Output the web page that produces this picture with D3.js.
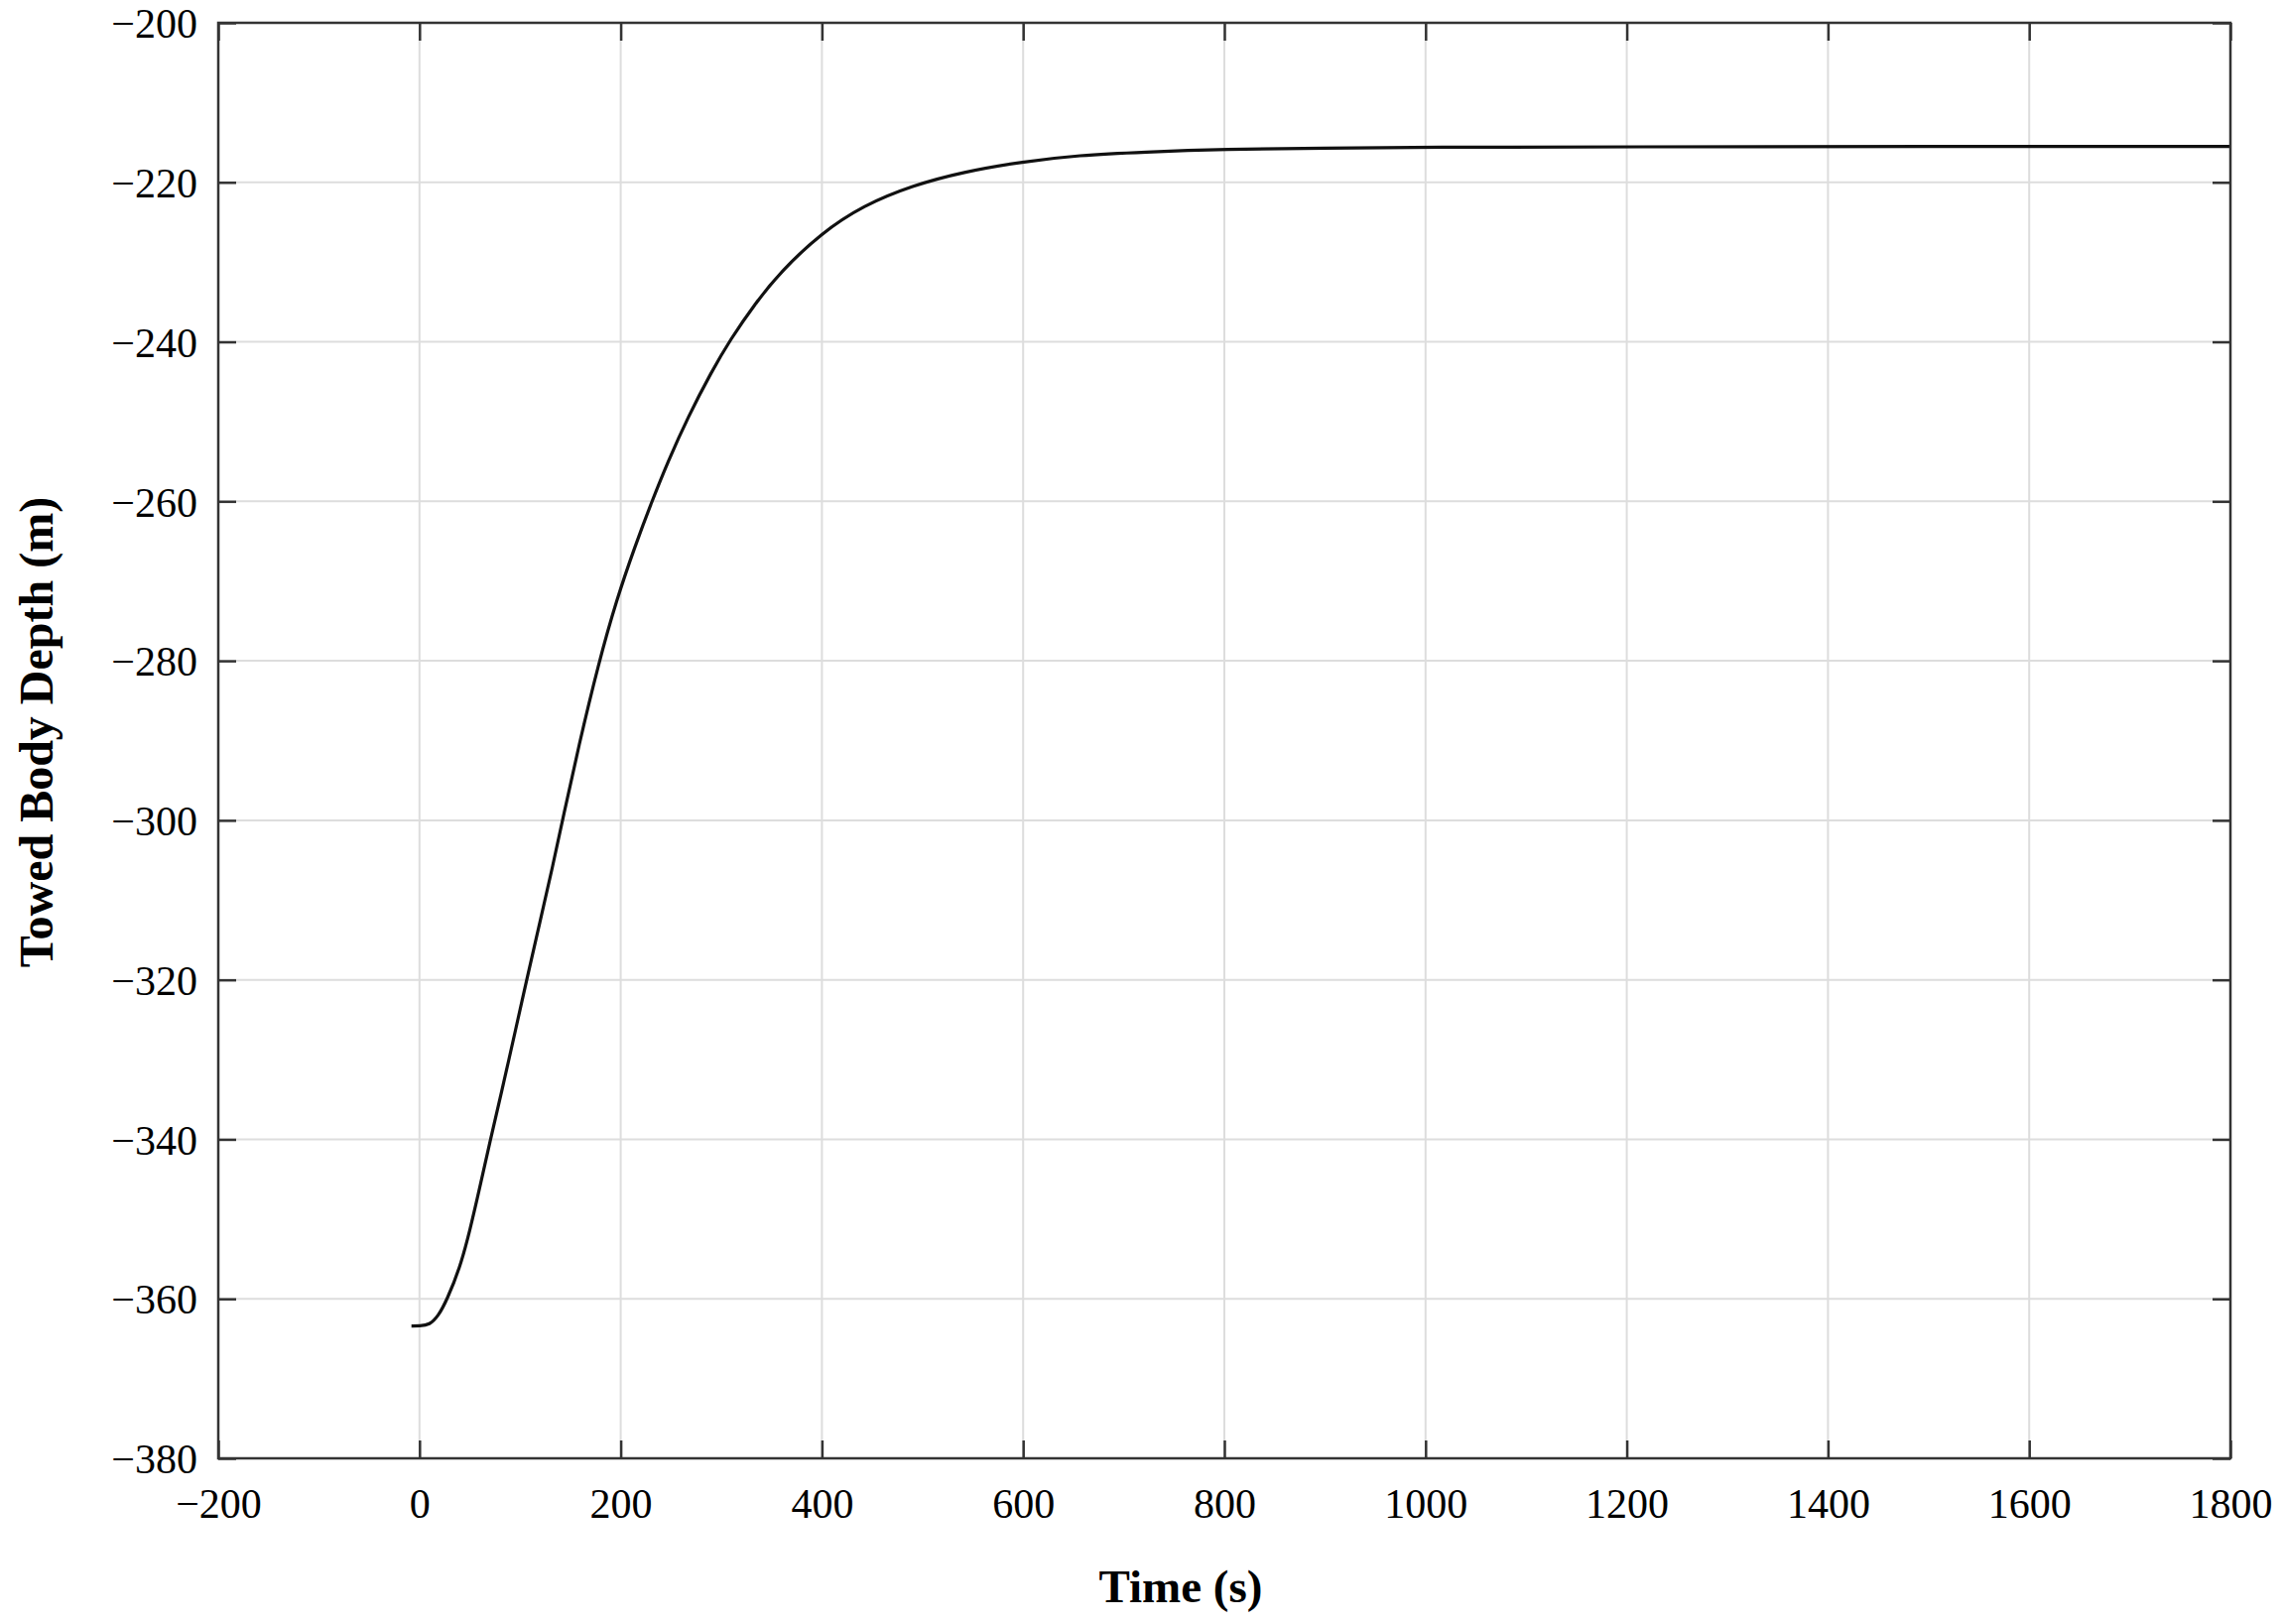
<!DOCTYPE html>
<html>
<head>
<meta charset="utf-8">
<script src="https://cdn.jsdelivr.net/npm/d3@7/dist/d3.min.js"></script>
<style>
  html, body { margin:0; padding:0; background:#fff; }
  svg { display:block; }
  .tick text { font-family:"Liberation Serif","Times New Roman",serif; font-size:42px; fill:#000; }
</style>
</head>
<body>
<svg id="chart" width="2301" height="1637"></svg>
<script>
// towed body depth over time
const timeS = [-8, 0, 10, 19, 27, 40, 50, 60, 70, 81, 96, 106, 120, 132, 143, 158, 178, 196,
  214, 231, 247, 267, 290, 309, 333, 359, 399, 441, 490, 540, 600, 655, 720, 800, 900,
  1000, 1200, 1500, 1800];
const depthM = [-363.4, -363.4, -363.3, -362.1, -360.2, -356.2, -351.5, -346.0, -340.3, -334.4,
  -326.0, -320.3, -312.6, -306.0, -299.5, -290.8, -280.3, -272.3, -265.7, -260.0, -255.0,
  -249.4, -243.8, -239.7, -235.3, -231.2, -226.4, -222.9, -220.4, -218.7, -217.4, -216.6,
  -216.2, -215.85, -215.7, -215.6, -215.55, -215.5, -215.5];

const xTicks = [-200, 0, 200, 400, 600, 800, 1000, 1200, 1400, 1600, 1800];
const yTicks = [-380, -360, -340, -320, -300, -280, -260, -240, -220, -200];

const xLabel = "Time (s)";
const yLabel = "Towed Body Depth (m)";

function draw(){
  const svg = d3.select("#chart");
  const L = 220, R = 2248, T = 23, B = 1470;

  const x = d3.scaleLinear().domain([-200, 1800]).range([L, R]);
  const y = d3.scaleLinear().domain([-380, -200]).range([B, T]);
  const fmt = d3.format("d");

  // grid
  const grid = svg.append("g").attr("stroke", "#dddddd").attr("stroke-width", 2);
  grid.selectAll("line.gx").data(xTicks).enter().append("line")
    .attr("x1", d=>x(d)).attr("x2", d=>x(d)).attr("y1", T).attr("y2", B);
  grid.selectAll("line.gy").data(yTicks).enter().append("line")
    .attr("x1", L).attr("x2", R).attr("y1", d=>y(d)).attr("y2", d=>y(d));

  // curve (b-spline to smooth out reading noise)
  const pts = timeS.map((t,i)=>[t, depthM[i]]);
  const line = d3.line().x(d=>x(d[0])).y(d=>y(d[1])).curve(d3.curveBasis);
  svg.append("path").attr("d", line(pts))
    .attr("fill", "none").attr("stroke", "#111").attr("stroke-width", 3.2)
    .attr("stroke-linejoin", "round");

  // axes, ticks inward on all four sides
  const tk = 18;
  const axB = svg.append("g").attr("transform", `translate(0,${B})`)
    .call(d3.axisBottom(x).tickValues(xTicks).tickFormat(fmt).tickSizeInner(-tk).tickSizeOuter(0).tickPadding(30));
  const axL = svg.append("g").attr("transform", `translate(${L},0)`)
    .call(d3.axisLeft(y).tickValues(yTicks).tickFormat(fmt).tickSizeInner(-tk).tickSizeOuter(0).tickPadding(21));
  const axT = svg.append("g").attr("transform", `translate(0,${T})`)
    .call(d3.axisTop(x).tickValues(xTicks).tickSizeInner(-tk).tickSizeOuter(0).tickFormat(""));
  const axR = svg.append("g").attr("transform", `translate(${R},0)`)
    .call(d3.axisRight(y).tickValues(yTicks).tickSizeInner(-tk).tickSizeOuter(0).tickFormat(""));
  [axB, axL, axT, axR].forEach(a=>{
    a.select(".domain").remove();
    a.selectAll(".tick line").attr("stroke", "#333").attr("stroke-width", 2.5);
  });
  axL.selectAll(".tick text").attr("dy", "0.35em");

  // frame
  svg.append("rect").attr("x", L).attr("y", T).attr("width", R-L).attr("height", B-T)
    .attr("fill", "none").attr("stroke", "#333").attr("stroke-width", 2.5);

  // axis titles
  svg.append("text").attr("x", 1190).attr("y", 1615)
    .attr("text-anchor", "middle")
    .attr("font-family", "Liberation Serif, Times New Roman, serif")
    .attr("font-weight", "bold").attr("font-size", 47)
    .text(xLabel);
  svg.append("text")
    .attr("transform", `translate(53,738) rotate(-90)`)
    .attr("text-anchor", "middle")
    .attr("font-family", "Liberation Serif, Times New Roman, serif")
    .attr("font-weight", "bold").attr("font-size", 48)
    .text(yLabel);
}
draw();
</script>
</body>
</html>
